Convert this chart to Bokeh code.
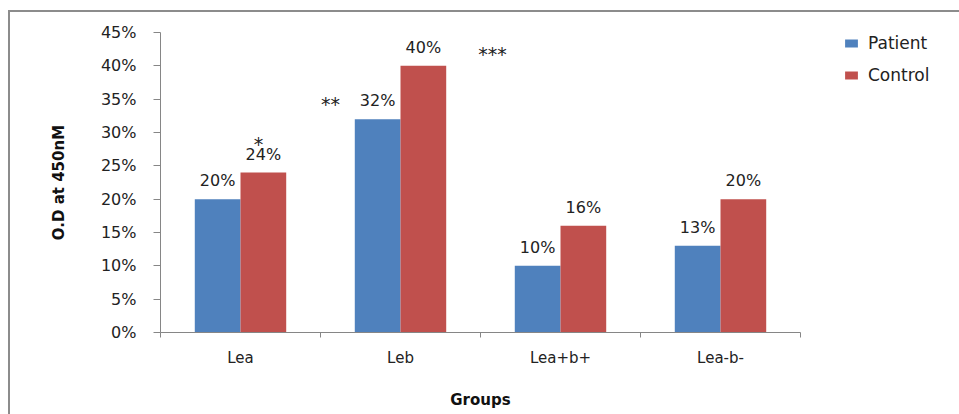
from bokeh.plotting import figure
from bokeh.models import (Range1d, FixedTicker, NumeralTickFormatter, ColumnDataSource,
                          LabelSet, Legend, LegendItem, InlineStyleSheet, LinearAxis)
from bokeh.core.properties import value
from bokeh.transform import dodge
from bokeh.embed import file_html
from bokeh.resources import INLINE

# ---- data ----
groups = ["Lea", "Leb", "Lea+b+", "Lea-b-"]
patient = [0.20, 0.32, 0.10, 0.13]
control = [0.24, 0.40, 0.16, 0.20]
series = ["Patient", "Control"]
colors = ["#4F81BD", "#C0504D"]
y_ticks = [0.0, 0.05, 0.10, 0.15, 0.20, 0.25, 0.30, 0.35, 0.40, 0.45]
stars = ["*", "**", "***"]
star_x = [0.6125, 1.0625, 2.075]
star_y = [0.283, 0.343, 0.418]
x_title = "Groups"
y_title = "O.D at 450nM"

FONT = "DejaVu Sans"
w = 1 / 3.5
n = len(groups)
centers = [i + 0.5 for i in range(n)]

src = ColumnDataSource(dict(
    xc=centers, patient=patient, control=control,
    plab=["%d%%" % round(v * 100) for v in patient],
    clab=["%d%%" % round(v * 100) for v in control],
))

# frame spans x 160..959 px; category axis occupies 160..800 px
p = figure(width=959, height=414, output_backend="svg", toolbar_location=None,
           x_range=Range1d(0, n * 799 / 640), y_range=Range1d(0, 0.45),
           min_border_left=160, min_border_right=0, min_border_top=32, min_border_bottom=82)
p.outline_line_color = None
p.xgrid.visible = False
p.ygrid.visible = False
p.background_fill_color = "white"
p.border_fill_color = "white"

r1 = p.vbar(x=dodge("xc", -w / 2), top="patient", width=w, source=src,
            fill_color=colors[0], line_color=None)
r2 = p.vbar(x=dodge("xc", w / 2), top="control", width=w, source=src,
            fill_color=colors[1], line_color=None)

for col, lab, off in (("patient", "plab", -w / 2), ("control", "clab", w / 2)):
    p.add_layout(LabelSet(x=dodge("xc", off), y=col, text=lab, source=src,
                          text_align="center", text_baseline="alphabetic", y_offset=13,
                          text_font=value(FONT), text_font_size="16px", text_color="#222222"))

star_src = ColumnDataSource(dict(x=star_x, y=star_y, t=stars))
p.add_layout(LabelSet(x="x", y="y", text="t", source=star_src, text_align="center",
                      text_baseline="middle", text_font=value(FONT), text_font_size="19px",
                      text_color="#222222"))

# category axis
xa = p.xaxis[0]
xa.bounds = (0, n)
xa.ticker = FixedTicker(ticks=centers, minor_ticks=list(range(n + 1)))
xa.major_label_overrides = {c: g for c, g in zip(centers, groups)}
xa.major_tick_line_color = None
xa.major_tick_out = 0
xa.minor_tick_in = 0
xa.minor_tick_out = 5
xa.minor_tick_line_color = "#868686"
xa.axis_line_color = "#868686"
xa.major_label_standoff = 11
xa.major_label_text_font = FONT
xa.major_label_text_font_size = "15px"
xa.major_label_text_color = "#222222"

# x title, centred on the category axis
mid = n / 2
xt = LinearAxis(bounds=(0, n), ticker=FixedTicker(ticks=[mid], minor_ticks=[]),
                major_label_overrides={mid: x_title},
                axis_line_color=None, major_tick_line_color=None, minor_tick_line_color=None,
                major_tick_in=0, major_tick_out=0, major_label_standoff=21,
                major_label_text_font=FONT, major_label_text_font_style="bold",
                major_label_text_font_size="15px", major_label_text_color="#111111")
p.add_layout(xt, "below")

ya = p.yaxis[0]
ya.ticker = FixedTicker(ticks=y_ticks, minor_ticks=[])
ya.formatter = NumeralTickFormatter(format="0%")
ya.major_tick_in = 0
ya.major_tick_out = 7
ya.major_tick_line_color = "#868686"
ya.minor_tick_line_color = None
ya.axis_line_color = "#868686"
ya.major_label_standoff = 17
ya.major_label_text_font = FONT
ya.major_label_text_font_size = "16px"
ya.major_label_text_color = "#222222"
ya.axis_label = y_title
ya.axis_label_text_font = FONT
ya.axis_label_text_font_style = "bold"
ya.axis_label_text_font_size = "15px"
ya.axis_label_text_color = "#111111"
ya.axis_label_standoff = 30

legend = Legend(items=[LegendItem(label=series[0], renderers=[r1]),
                       LegendItem(label=series[1], renderers=[r2])],
                location=(683, 247), padding=0, margin=0, spacing=12,
                glyph_width=16, glyph_height=10, label_height=20, label_standoff=9,
                label_text_font=FONT, label_text_font_size="17px", label_text_color="#222222",
                border_line_color=None, background_fill_alpha=0)
p.add_layout(legend, "center")

p.stylesheets = [InlineStyleSheet(css="""
:host { position: relative; }
:host::after { content: ""; position: absolute; left: 8px; top: 10px; right: 0px; bottom: 0px;
  border-left: 2px solid #8c8c8c; border-top: 2px solid #8c8c8c; pointer-events: none; z-index: 10; }
""")]

open("out.html", "w").write(file_html(p, INLINE))
